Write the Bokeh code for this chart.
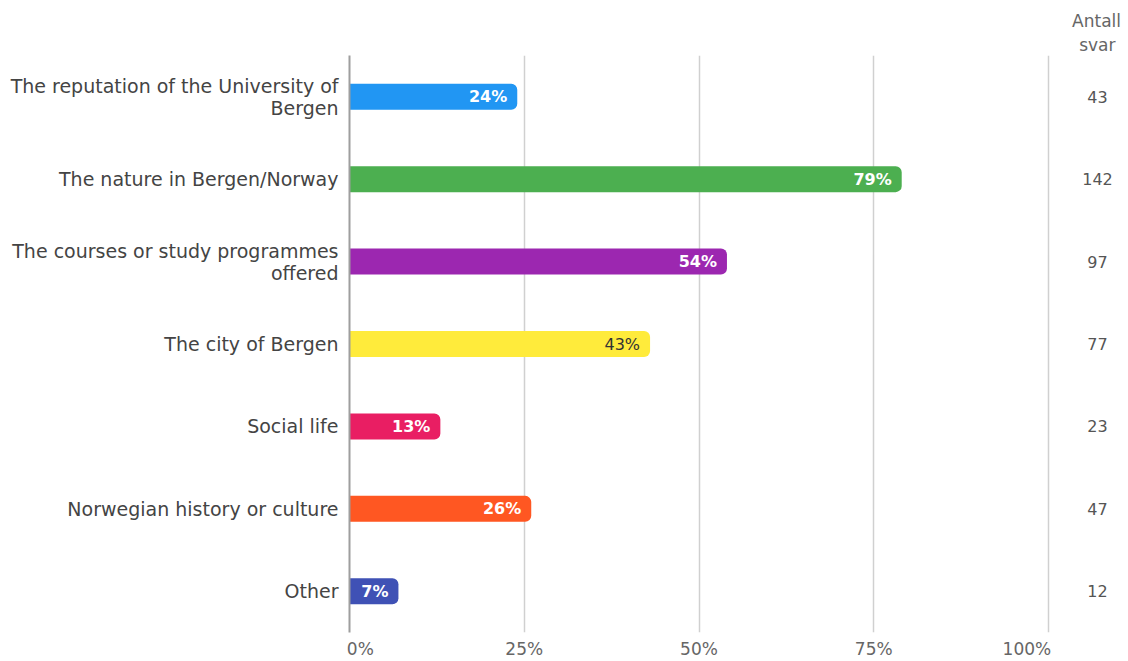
from bokeh.plotting import figure
from bokeh.models import Range1d, FactorRange, FixedTicker, Title, ColumnDataSource
from bokeh.embed import file_html
from bokeh.resources import INLINE
from bokeh.core.properties import value

categories = [
    "The reputation of the University of\nBergen",
    "The nature in Bergen/Norway",
    "The courses or study programmes\noffered",
    "The city of Bergen",
    "Social life",
    "Norwegian history or culture",
    "Other",
]
percent = [24, 79, 54, 43, 13, 26, 7]
counts = [43, 142, 97, 77, 23, 47, 12]
colors = ["#2196F3", "#4CAF50", "#9C27B0", "#FFEB3B", "#E91E63", "#FF5722", "#3F51B5"]
label_colors = ["#ffffff", "#ffffff", "#ffffff", "#333333", "#ffffff", "#ffffff", "#ffffff"]
label_styles = ["bold", "bold", "bold", "normal", "bold", "bold", "bold"]
x_ticks = [0, 25, 50, 75, 100]
count_header = ["Antall", "svar"]

FONT = "DejaVu Sans"
W, H = 1128, 661
LEFT, TOP, BOTTOM = 349, 55, 29
frame_w = W - LEFT
x_end = 100 * frame_w / 699.0
count_x = 100 * (1097 - LEFT) / 699.0

src = ColumnDataSource(dict(
    cat=categories,
    pct=percent,
    lbl=[f"{v}%" for v in percent],
    cnt=[str(c) for c in counts],
    cx=[count_x] * len(categories),
    color=colors,
    lcolor=label_colors,
    lstyle=label_styles,
))

p = figure(width=W, height=H, output_backend="svg", toolbar_location=None,
           y_range=FactorRange(*reversed(categories), range_padding=0),
           x_range=Range1d(0, x_end),
           min_border_left=LEFT, min_border_right=0, min_border_top=TOP,
           min_border_bottom=BOTTOM)
p.outline_line_color = None
p.background_fill_color = "white"

p.hbar(y="cat", left=0, right="pct", height=0.315, color="color", source=src,
       border_radius=(0, 6, 6, 0), line_color=None)

p.text(x="pct", y="cat", text="lbl", source=src, x_offset=-10,
       text_align="right", text_baseline="middle", text_color="lcolor",
       text_font=value(FONT), text_font_size="16px", text_font_style="lstyle")

p.text(x="cx", y="cat", text="cnt", source=src, text_align="center",
       text_baseline="middle", text_color="#555555", text_font=value(FONT),
       text_font_size="16px")

# column header, stacked above the frame (added innermost first)
svar_w = 36
antall_w = 49
p.add_layout(Title(text=count_header[1], align="right", offset=(W - 1097) - svar_w / 2,
                   text_font=FONT, text_font_size="17px", text_font_style="normal",
                   text_color="#666666", standoff=2), "above")
p.add_layout(Title(text=count_header[0], align="right", offset=(W - 1096) - antall_w / 2,
                   text_font=FONT, text_font_size="17px", text_font_style="normal",
                   text_color="#666666", standoff=2), "above")

# x axis
p.xaxis.ticker = FixedTicker(ticks=x_ticks)
p.xaxis.major_label_overrides = {0: "\u00a0" * 4 + "0%", 25: "25%", 50: "50%",
                                 75: "75%", 100: "100%" + "\u00a0" * 8}
p.xaxis.axis_line_color = None
p.xaxis.major_tick_line_color = None
p.xaxis.minor_tick_line_color = None
p.xaxis.major_tick_out = 0
p.xaxis.major_tick_in = 0
p.xaxis.major_label_standoff = 6
p.xaxis.major_label_text_font = FONT
p.xaxis.major_label_text_font_size = "17px"
p.xaxis.major_label_text_color = "#666666"

p.xgrid.ticker = FixedTicker(ticks=x_ticks)
p.xgrid.grid_line_color = "#d0d0d0"
p.xgrid.grid_line_width = 1.5
p.ygrid.grid_line_color = None

# y axis
p.yaxis.axis_line_color = "#9e9e9e"
p.yaxis.axis_line_width = 2
p.yaxis.major_tick_line_color = None
p.yaxis.minor_tick_line_color = None
p.yaxis.major_tick_out = 0
p.yaxis.major_tick_in = 0
p.yaxis.major_label_standoff = 11
p.yaxis.major_label_text_font = FONT
p.yaxis.major_label_text_font_size = "19px"
p.yaxis.major_label_text_line_height = 1.0
p.yaxis.major_label_text_color = "#444444"

open("out.html", "w").write(file_html(p, INLINE))
